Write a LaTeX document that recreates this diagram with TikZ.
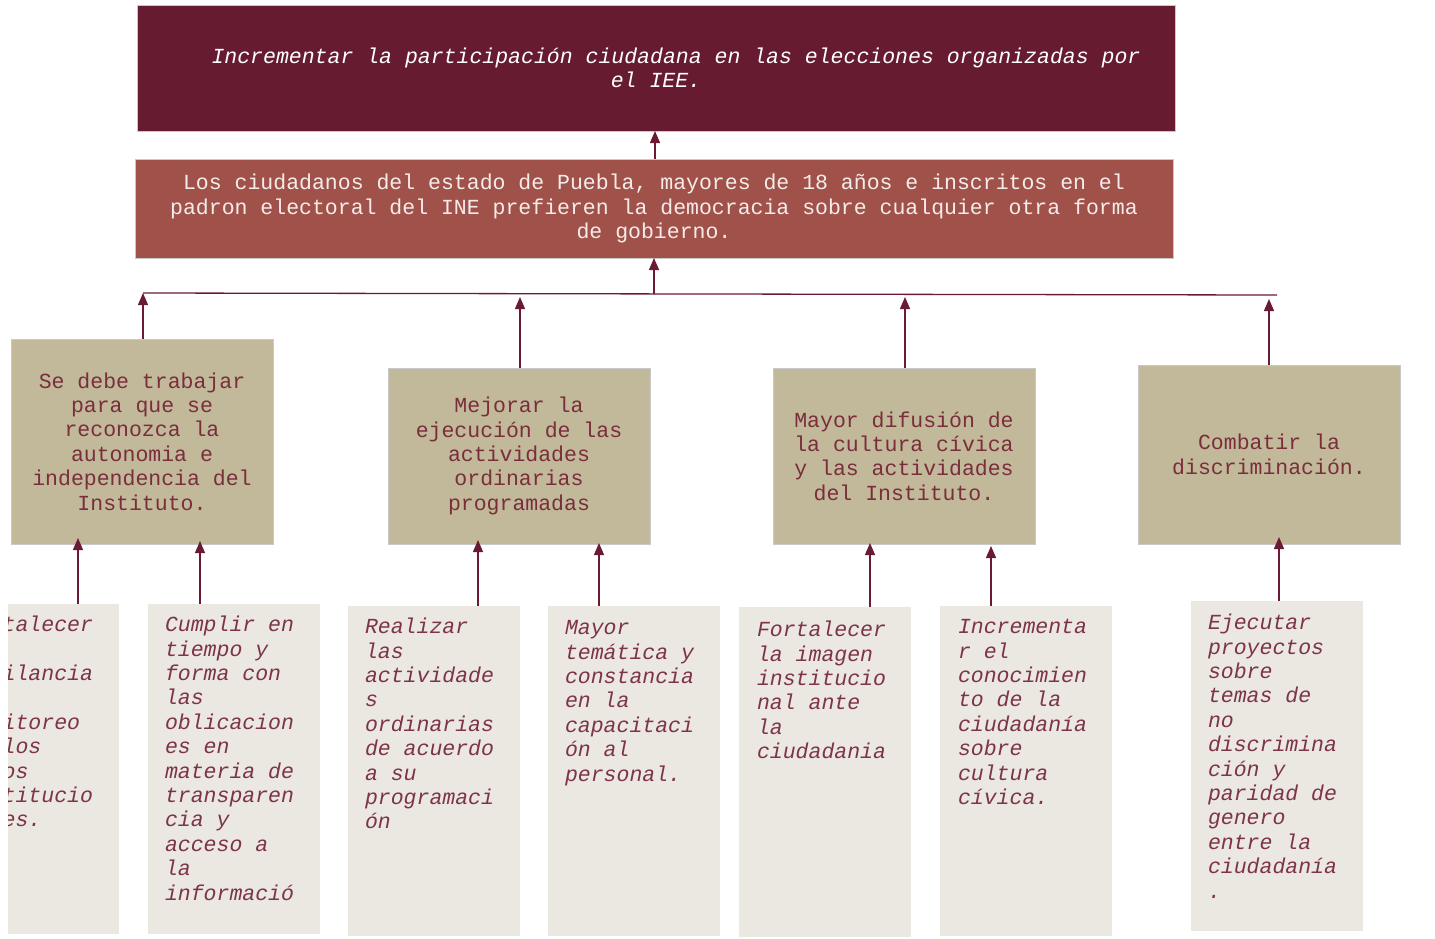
\documentclass[tikz,border=0pt]{standalone}
\usepackage{fontspec}
\usetikzlibrary{arrows.meta}
\newfontfamily\mono{Liberation Mono}
\definecolor{topfill}{HTML}{661B31}
\definecolor{midfill}{HTML}{A0524A}
\definecolor{tanfill}{HTML}{C2B99A}
\definecolor{botfill}{HTML}{EBE8E2}
\definecolor{linec}{HTML}{6B1A33}
\definecolor{tantext}{HTML}{7A2E3C}
\definecolor{bottext}{HTML}{7D3446}
\definecolor{midtext}{HTML}{F5ECEA}
\definecolor{edgec}{HTML}{C9C9C9}
\begin{document}
\begin{tikzpicture}[x=1pt,y=-1pt,
  every node/.style={inner sep=0pt,outer sep=0pt},
  txt/.style={font=\mono\fontsize{21.5}{24.4}\selectfont},
  topbox/.style={txt,fill=topfill,draw=edgec,line width=1pt,text=white,align=center,anchor=north west,font=\mono\itshape\fontsize{21.5}{24.4}\selectfont},
  midbox/.style={txt,fill=midfill,draw=edgec,line width=1pt,text=midtext,align=center,anchor=north west},
  tanbox/.style={txt,fill=tanfill,draw=edgec,line width=0.8pt,text=tantext,align=center,anchor=north west,minimum width=262pt},
  botbox/.style={fill=botfill,anchor=north west,minimum width=172pt,minimum height=330pt},
  bottxt/.style={txt,text=bottext,align=left,anchor=north west,font=\mono\itshape\fontsize{21.5}{24.4}\selectfont},
  arr/.style={draw=linec,line width=1.3pt,-{Triangle[length=12pt,width=10pt]}},
  bus/.style={draw=linec,line width=1.3pt}]
\useasboundingbox (0,0) rectangle (1435,938);

% top boxes
\node[topbox,minimum width=1038pt,minimum height=126pt] (top) at (137,5)
  {\hspace*{40pt}Incrementar la participación ciudadana en las elecciones organizadas por\\el IEE.};
\node[midbox,minimum width=1038pt,minimum height=99pt] (mid) at (135,159)
  {Los ciudadanos del estado de Puebla, mayores de 18 años e inscritos en el\\padron electoral del INE prefieren la democracia sobre cualquier otra forma\\de gobierno.};

% tan boxes
\node[tanbox,minimum height=205pt] (A) at (11,339)
  {Se debe trabajar\\para que se\\reconozca la\\autonomia e\\independencia del\\Instituto.};
\node[tanbox,minimum height=176pt] (B) at (388,368)
  {Mejorar la\\ejecución de las\\actividades\\ordinarias\\programadas};
\node[tanbox,minimum height=176pt] (C) at (773,368)
  {Mayor difusión de\\la cultura cívica\\y las actividades\\del Instituto.};
\node[tanbox,minimum height=179pt] (D) at (1138,365)
  {Combatir la\\discriminación.};

% bottom boxes
\begin{scope}
\clip (8,0) rectangle (1435,938);
\node[botbox] (b1) at (-53,604) {};
\node[bottxt] (b1t) at (-36,614.7)
  {\strut Fortalecer\\la\\vigilancia\\y\\monitoreo\\de los\\otros\\institucio\\nales.};
\end{scope}
\node[botbox] (b2) at (148,604) {};
\node[bottxt] (b2t) at (165,614.7)
  {\strut Cumplir en\\tiempo y\\forma con\\las\\oblicacion\\es en\\materia de\\transparen\\cia y\\acceso a\\la\\informació};
\node[botbox] (b3) at (348,606) {};
\node[bottxt] (b3t) at (365,616.7)
  {\strut Realizar\\las\\actividade\\s\\ordinarias\\de acuerdo\\a su\\programaci\\ón};
\node[botbox] (b4) at (548,606) {};
\node[bottxt] (b4t) at (565,617.7)
  {\strut Mayor\\temática y\\constancia\\en la\\capacitaci\\ón al\\personal.};
\node[botbox] (b5) at (739,607) {};
\node[bottxt] (b5t) at (757,619.7)
  {\strut Fortalecer\\la imagen\\institucio\\nal ante\\la\\ciudadania};
\node[botbox] (b6) at (940,606) {};
\node[bottxt] (b6t) at (958,616.7)
  {\strut Incrementa\\r el\\conocimien\\to de la\\ciudadanía\\sobre\\cultura\\cívica.};
\node[botbox] (b7) at (1191,601) {};
\node[bottxt] (b7t) at (1208,612.7)
  {\strut Ejecutar\\proyectos\\sobre\\temas de\\no\\discrimina\\ción y\\paridad de\\genero\\entre la\\ciudadanía\\.};

% bus and connectors
\coordinate (busL) at (143,293);
\coordinate (busM) at (654,293.5);
\coordinate (busR) at (1277,295);
\coordinate (tB) at (520,297);
\coordinate (tC) at (905,297);
\coordinate (tD) at (1269,299);
\draw[bus] (busL) -- (busR);
\draw[arr] (mid.north -| 655,0) -- (top.south -| 655,0);
\draw[arr] (busM) -- (mid.south -| busM);
\draw[arr] (A.north -| busL) -- (busL);
\draw[arr] (B.north -| tB) -- (tB);
\draw[arr] (C.north -| tC) -- (tC);
\draw[arr] (D.north -| tD) -- (tD);

\coordinate (a1) at (78,538);
\coordinate (a2) at (200,541);
\coordinate (a3) at (478,540);
\coordinate (a4) at (599,543);
\coordinate (a5) at (870,543);
\coordinate (a6) at (991,546);
\coordinate (a7) at (1279,537);
\draw[arr] (a1 |- b1.north) -- (a1);
\draw[arr] (a2 |- b2.north) -- (a2);
\draw[arr] (a3 |- b3.north) -- (a3);
\draw[arr] (a4 |- b4.north) -- (a4);
\draw[arr] (a5 |- b5.north) -- (a5);
\draw[arr] (a6 |- b6.north) -- (a6);
\draw[arr] (a7 |- b7.north) -- (a7);
\end{tikzpicture}
\end{document}
